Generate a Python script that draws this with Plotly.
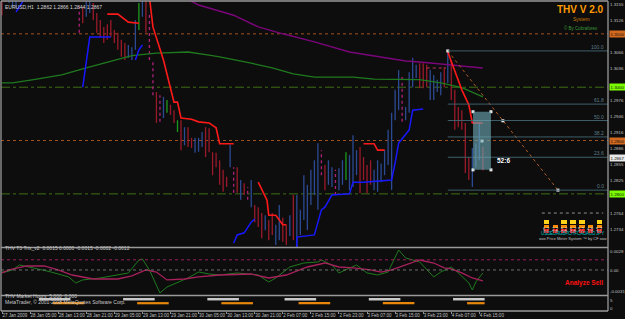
import plotly.graph_objects as go

# ---------------- DATA ----------------
# hourly EURUSD bars (index 0 = 27 Jan 2009 21:00)
bar_high = [1.3185, 1.3195, 1.3190, 1.3186, 1.3180, 1.3205, 1.3214, 1.3220, 1.3228, 1.3215,
            1.3232, 1.3240, 1.3226, 1.3218, 1.3210, 1.3214, 1.3206, 1.3200, 1.3204, 1.3195,
            1.3199, 1.3190, 1.3150, 1.3150, 1.3170, 1.3166, 1.3158, 1.3139, 1.3126, 1.3113,
            1.3118, 1.3126, 1.3107, 1.3102, 1.3089, 1.3083, 1.3079, 1.3075, 1.3126, 1.3158,
            1.3168, 1.3165, 1.3139, 1.3051, 1.2991, 1.2985, 1.2982, 1.2976, 1.2967, 1.2957,
            1.2938, 1.2938, 1.2925, 1.2925, 1.2905, 1.2905, 1.2905, 1.2916, 1.2925, 1.2923,
            1.2878, 1.2877, 1.2863, 1.2845, 1.2832, 1.2892, 1.2850, 1.2850, 1.2826, 1.2820,
            1.2813, 1.2826, 1.2779, 1.2775, 1.2764, 1.2760, 1.2751, 1.2764, 1.2742, 1.2779,
            1.2755, 1.2742, 1.2760, 1.2798, 1.2798, 1.2770, 1.2835, 1.2817, 1.2845, 1.2863,
            1.2895, 1.2882, 1.2854, 1.2863, 1.2850, 1.2845, 1.2848, 1.2863, 1.2878, 1.2873,
            1.2910, 1.2882, 1.2888, 1.2869, 1.2854, 1.2863, 1.2845, 1.2863, 1.2857, 1.2882,
            1.2920, 1.2952, 1.2995, 1.3032, 1.3019, 1.2963, 1.3028, 1.3055, 1.3042, 1.3045,
            1.3045, 1.3042, 1.3032, 1.3023, 1.3014, 1.3028, 1.3038, 1.3068, 1.3051, 1.2995,
            1.2963, 1.2957, 1.2933, 1.2869, 1.2886, 1.2895, 1.2933, 1.2888]
bar_low = [1.3135, 1.3160, 1.3158, 1.3150, 1.3148, 1.3166, 1.3170, 1.3180, 1.3185, 1.3178,
           1.3190, 1.3195, 1.3188, 1.3182, 1.3176, 1.3180, 1.3175, 1.3168, 1.3172, 1.3166,
           1.3170, 1.3168, 1.3102, 1.3120, 1.3132, 1.3139, 1.3126, 1.3102, 1.3094, 1.3083,
           1.3089, 1.3094, 1.3083, 1.3070, 1.3057, 1.3051, 1.3055, 1.3051, 1.3070, 1.3107,
           1.3132, 1.3102, 1.3051, 1.2985, 1.2933, 1.2935, 1.2942, 1.2952, 1.2948, 1.2933,
           1.2916, 1.2882, 1.2891, 1.2888, 1.2886, 1.2877, 1.2879, 1.2888, 1.2869, 1.2878,
           1.2835, 1.2850, 1.2817, 1.2804, 1.2813, 1.2850, 1.2802, 1.2802, 1.2789, 1.2798,
           1.2789, 1.2775, 1.2747, 1.2738, 1.2717, 1.2732, 1.2713, 1.2723, 1.2704, 1.2713,
           1.2710, 1.2704, 1.2721, 1.2713, 1.2700, 1.2723, 1.2751, 1.2732, 1.2779, 1.2798,
           1.2770, 1.2835, 1.2807, 1.2817, 1.2813, 1.2798, 1.2807, 1.2817, 1.2826, 1.2807,
           1.2813, 1.2835, 1.2801, 1.2826, 1.2801, 1.2817, 1.2807, 1.2804, 1.2822, 1.2835,
           1.2854, 1.2807, 1.2938, 1.2957, 1.2935, 1.2938, 1.2952, 1.3000, 1.3017, 1.2998,
           1.2998, 1.3000, 1.2976, 1.2976, 1.2991, 1.2985, 1.3000, 1.3008, 1.2976, 1.2920,
           1.2925, 1.2920, 1.2839, 1.2826, 1.2813, 1.2850, 1.2863, 1.2844]
bar_color = list("rrbbbbbbrrbbrrrbrrbrbr" "mrbbrrrrrrrrrrbbbgbrm" "mrmbgrrgrbrrbbbrrrrrrr"
                 "bmrbrmbrrrbrrbbrrbrb" "bbbbbbmrbbmbbgbbbrrrr" "bbbbbbbbmbbbbrrrbbbbr" "brrrrrrbbbr")

# moving averages (bar index, price)
ma_slow_x = [49, 56, 66, 73, 80, 89, 99, 110, 115, 119, 137]
ma_slow_y = [1.3179, 1.3154, 1.3135, 1.3113, 1.3100, 1.3085, 1.3066, 1.3055, 1.3049, 1.3047, 1.3036]
ma_fast_x = [0, 3, 9, 17, 24, 32, 37, 44, 53, 59, 62, 71, 77, 83, 89, 100, 106, 119, 125, 131, 137]
ma_fast_y = [1.3008, 1.3008, 1.3014, 1.3023, 1.3036, 1.3051, 1.3059, 1.3064, 1.3066, 1.3060, 1.3057,
             1.3045, 1.3036, 1.3025, 1.3019, 1.3019, 1.3015, 1.3014, 1.3008, 1.2999, 1.2982]

# trailing stop lines (None = break)
trail_up_x = [4, 6, 7, None, 23, 24, 25, 31, None, 38, 39, 40, None, 66, 67, 69, 71, 72, None,
              84, 84, 89, 91, 92, 94, 99, 100, 103, 111, 112, 113, 116, 117, 120]
trail_up_y = [1.3141, 1.3163, 1.3172, None, 1.3000, 1.3051, 1.3094, 1.3094, None, 1.3051, 1.3070, 1.3079, None,
              1.2708, 1.2723, 1.2727, 1.2747, 1.2753, None,
              1.2700, 1.2719, 1.2723, 1.2770, 1.2775, 1.2798, 1.2800, 1.2822, 1.2822, 1.2826, 1.2858,
              1.2895, 1.2920, 1.2957, 1.2959]
trail_dn_x = [30, 33, 36, 39, None, 42, 43, 46, 49, 50, 51, 54, 56, 59, 61, 62, 66, None,
              73, 75.5, 76, 78, 80, 81, None, 103, 106, 107, 109, None, 127, 131, 133, 134, 137]
trail_dn_y = [1.3137, 1.3137, 1.3122, 1.3120, None, 1.3169, 1.3113, 1.3051, 1.2972, 1.2972, 1.2942, 1.2940,
              1.2935, 1.2933, 1.2924, 1.2894, 1.2894, None,
              1.2822, 1.2788, 1.2760, 1.2760, 1.2742, 1.2742, None, 1.2894, 1.2894, 1.2882, 1.2882, None,
              1.3066, 1.2995, 1.2967, 1.2933, 1.2933]
pivot_x = [121, 126.5]
pivot_y = [1.3036, 1.3036]

# horizontal levels
level_prices = [1.3100, 1.3000, 1.2900, 1.2800]
level_kinds = ["round50", "round100", "round50", "round100"]

# fibonacci
fib_high = 1.3068
fib_low = 1.2807
fib_start = 127
fib_levels = [100.0, 61.8, 50.0, 38.2, 23.6, 0.0]

# projection / box
proj_x = [127, 142.7, 158.4]
proj_y = [1.3068, 1.2937, 1.2807]
box_x = [134.2, 139.3]
box_y = [1.2845, 1.2954]
anchor_x = [127, 134.2, 139.3, 136.75, 134.2, 139.3, 142.7, 158.4]
anchor_y = [1.3068, 1.2954, 1.2954, 1.2899, 1.2845, 1.2845, 1.2937, 1.2807]
box_text = "52:6"

# price tags on the axis
tag_prices = [1.3100, 1.3000, 1.2900, 1.2867, 1.2800]
tag_colors = ["#d2691e", "#7cfc00", "#d2691e", "#e8e8e8", "#7cfc00"]

# axis ticks (those hidden behind tags omitted)
price_ticks = [1.3155, 1.3126, 1.3066, 1.3036, 1.2976, 1.2946, 1.2916,
               1.2886, 1.2855, 1.2825, 1.2764, 1.2734]
time_ticks = [0, 8, 16, 24, 32, 40, 48, 56, 64, 72, 80, 88, 96, 104, 112, 120, 128, 136]
time_labels = ["27 Jan 2009", "28 Jan 05:00", "28 Jan 13:00", "28 Jan 21:00", "29 Jan 05:00",
               "29 Jan 13:00", "29 Jan 21:00", "30 Jan 05:00", "30 Jan 13:00", "30 Jan 21:00",
               "2 Feb 07:00", "2 Feb 15:00", "2 Feb 23:00", "3 Feb 07:00", "3 Feb 15:00",
               "3 Feb 23:00", "4 Feb 07:00", "4 Feb 15:00"]

# T3 Trix indicator
trix_slow_x = [0, 2, 7, 12, 16, 20, 26, 33, 37, 41, 44, 47, 52, 56, 62, 71, 76, 81, 87, 92, 96,
               100, 105, 108, 111, 115, 119, 123, 126, 128, 131, 134, 137]
trix_slow_y = [-0.00044, 0.0, 0.00059, 0.00059, 0.0, -0.00074, -0.00133, -0.00133, -0.00088, 0.0,
               -0.00030, -0.00147, -0.00133, -0.00103, -0.00074, -0.00059, -0.00118, -0.00074,
               0.00044, 0.00103, 0.00044, 0.00030, 0.0, -0.00030, 0.0, 0.00074, 0.00147, 0.00103,
               0.00030, 0.00015, -0.00044, -0.00118, -0.00162]
trix_fast_x = [0, 1, 3, 5, 9, 14, 19, 21, 23, 28, 36, 39, 40, 42, 45, 47, 53, 56, 59, 62, 67, 73,
               76, 78, 82, 86, 90, 91, 94, 96, 101, 104, 107, 110, 113, 115, 119, 121, 123, 125,
               128, 130, 133, 134, 135, 137]
trix_fast_y = [-0.00030, -0.00030, 0.0, 0.00074, 0.00029, -0.00030, -0.00103, -0.00192, -0.00147,
               -0.00118, -0.00044, 0.00147, 0.00162, 0.0, -0.00339, -0.00251, -0.00118, -0.00030,
               -0.00059, -0.00074, -0.00044, -0.00074, -0.00177, -0.00118, 0.00044, 0.00103,
               0.00118, 0.00147, 0.00074, -0.00044, 0.00074, -0.00044, -0.00074, -0.00030,
               0.00295, 0.00177, 0.00118, 0.0, -0.00103, -0.00030, 0.00044, -0.00044, -0.00192,
               -0.00295, -0.00177, -0.00044]
trix_levels = [0.0015, 0.0]

# market hours sessions (bar index ranges)
london_sessions = [(11, 19), (35, 43), (59, 67), (81, 89), (105, 113), (129, 137)]
ny_sessions = [(15, 23), (39, 47), (63, 71), (85, 93), (109, 117), (133, 137)]
london_level = 5.5
ny_level = 3.0

# price meter panel
meter_ccy = ["USD", "EUR", "GBP", "CHF", "CAD", "AUD", "JPY"]
meter_vals = ["6.7", "2.2", "5.2", "6.2", "5.7", "4.8", "5.7"]
meter_blocks = [3, 2, 3, 3, 3, 2, 3]

# ---------------- FIGURE ----------------
BG = "#0d0d0d"
FONT = "Liberation Sans, Arial, sans-serif"
fig = go.Figure()

colmap = {"r": ("#9a1a2a", "solid"), "b": ("#2c4a94", "solid"),
          "m": ("#b0207a", "dot"), "g": ("#1c9a1c", "solid")}
for key, (col, dash) in colmap.items():
    xs, ys = [], []
    for i, (h, l, c) in enumerate(zip(bar_high, bar_low, bar_color)):
        if c == key:
            xs += [i, i, None]
            ys += [l, h, None]
    fig.add_trace(go.Scatter(x=xs, y=ys, mode="lines", line=dict(color=col, width=1.3, dash=dash),
                             hoverinfo="skip", xaxis="x", yaxis="y"))

fig.add_trace(go.Scatter(x=ma_fast_x, y=ma_fast_y, mode="lines", line=dict(color="#1f7a1f", width=1.3),
                         xaxis="x", yaxis="y"))
fig.add_trace(go.Scatter(x=ma_slow_x, y=ma_slow_y, mode="lines", line=dict(color="#7a067a", width=1.5),
                         xaxis="x", yaxis="y"))
fig.add_trace(go.Scatter(x=trail_up_x, y=trail_up_y, mode="lines", line=dict(color="#1818ff", width=1.5),
                         connectgaps=False, xaxis="x", yaxis="y"))
fig.add_trace(go.Scatter(x=trail_dn_x, y=trail_dn_y, mode="lines", line=dict(color="#ff1a1a", width=1.6),
                         connectgaps=False, xaxis="x", yaxis="y"))
fig.add_trace(go.Scatter(x=pivot_x, y=pivot_y, mode="lines", line=dict(color="#c0306a", width=1.2, dash="dot"),
                         xaxis="x", yaxis="y"))

shapes = []
for p, k in zip(level_prices, level_kinds):
    if k == "round50":
        shapes.append(dict(type="line", xref="paper", x0=0, x1=1, yref="y", y0=p, y1=p,
                           line=dict(color="#a4501e", width=1, dash="dot"), layer="below"))
    else:
        shapes.append(dict(type="line", xref="paper", x0=0, x1=1, yref="y", y0=p, y1=p,
                           line=dict(color="#3f6f14", width=1, dash="dashdot"), layer="below"))
x_right = 172.65
annotations = []
for lv in fib_levels:
    p = fib_low + (fib_high - fib_low) * lv / 100.0
    shapes.append(dict(type="line", xref="x", x0=fib_start, x1=x_right, yref="y", y0=p, y1=p,
                       line=dict(color="#3e5f6a", width=1)))
    annotations.append(dict(xref="paper", x=0.9967, xanchor="right", yref="y", y=p, yanchor="bottom",
                            text="%.1f" % lv, showarrow=False, font=dict(size=5, color="#5c7f8c", family=FONT),
                            yshift=-1))
shapes.append(dict(type="rect", xref="x", x0=box_x[0], x1=box_x[1], yref="y", y0=box_y[0], y1=box_y[1],
                   fillcolor="rgba(110,170,180,0.62)", line=dict(width=0)))
fig.add_trace(go.Scatter(x=proj_x, y=proj_y, mode="lines", line=dict(color="#b05a24", width=1, dash="dot"),
                         xaxis="x", yaxis="y"))
fig.add_trace(go.Scatter(x=anchor_x, y=anchor_y, mode="markers",
                         marker=dict(symbol="square", size=3, color="#e8e8e8"), xaxis="x", yaxis="y"))
annotations.append(dict(xref="x", x=142.9, yref="y", y=1.2863, text="<b>%s</b>" % box_text, showarrow=False,
                        font=dict(size=6.5, color="#ffffff", family=FONT)))

# indicator pane
fig.add_trace(go.Scatter(x=trix_fast_x, y=trix_fast_y, mode="lines", line=dict(color="#1e7a1e", width=1),
                         xaxis="x", yaxis="y2"))
fig.add_trace(go.Scatter(x=trix_slow_x, y=trix_slow_y, mode="lines", line=dict(color="#a8205c", width=1.3),
                         xaxis="x", yaxis="y2"))
shapes.append(dict(type="line", xref="paper", x0=0, x1=1, yref="y2", y0=trix_levels[0], y1=trix_levels[0],
                   line=dict(color="#9a1f5a", width=1, dash="dot")))
shapes.append(dict(type="line", xref="paper", x0=0, x1=1, yref="y2", y0=trix_levels[1], y1=trix_levels[1],
                   line=dict(color="#707070", width=1, dash="dot")))

# market hours pane
lx, ly, nx, ny = [], [], [], []
for a, b in london_sessions:
    lx += [a - 0.5, b + 0.5, None]
    ly += [london_level, london_level, None]
for a, b in ny_sessions:
    nx += [a - 0.5, b + 0.5, None]
    ny += [ny_level, ny_level, None]
fig.add_trace(go.Scatter(x=lx, y=ly, mode="lines", line=dict(color="#c8c8c8", width=2.5), xaxis="x", yaxis="y3"))
fig.add_trace(go.Scatter(x=nx, y=ny, mode="lines", line=dict(color="#e8860c", width=2.2), xaxis="x", yaxis="y3"))

# price meter panel
layer_cols = ["#ee1111", "#ff8c00", "#ffd21a"]
for k in range(3):
    vals = [1 if n > k else 0 for n in meter_blocks]
    fig.add_trace(go.Bar(x=list(range(len(meter_ccy))), y=vals, marker=dict(color=layer_cols[k],
                         line=dict(color=BG, width=1)), width=0.72, xaxis="x4", yaxis="y4"))
for j, (c, v) in enumerate(zip(meter_ccy, meter_vals)):
    annotations.append(dict(xref="x4", x=j, yref="paper", y=0.2484, text=v, showarrow=False,
                            font=dict(size=4.5, color="#d0d0d0", family=FONT)))
    annotations.append(dict(xref="x4", x=j, yref="paper", y=0.2355, text=c, showarrow=False,
                            font=dict(size=4.5, color="#00c0c0", family=FONT)))
annotations.append(dict(xref="x4", x=3, yref="paper", y=0.2194, text="ooo Price Meter System \u2122 by CF ooo",
                        showarrow=False, font=dict(size=4, color="#c0c0c0", family=FONT)))
shapes.append(dict(type="line", xref="paper", x0=0.891, x1=0.992, yref="paper", y0=0.316, y1=0.316,
                   line=dict(color="#909090", width=1, dash="dot")))

# price tags
for p, c in zip(tag_prices, tag_colors):
    annotations.append(dict(xref="paper", x=1, xanchor="left", xshift=1, yref="y", y=p, text="%.4f" % p,
                            showarrow=False, bgcolor=c, borderpad=0.5,
                            font=dict(size=4.4, color="#101010", family=FONT)))

annotations += [
    dict(xref="paper", x=0, xanchor="left", xshift=2, yref="paper", y=1, yanchor="top", yshift=-1,
         text="EURUSD,H1  1.2862 1.2866 1.2844 1.2867", showarrow=False,
         font=dict(size=5, color="#d8d8d8", family=FONT)),
    dict(xref="paper", x=0.9967, xanchor="right", yref="paper", y=1, yanchor="top", yshift=-1,
         text="<b>THV V 2.0</b>", showarrow=False, font=dict(size=10, color="#ff9a00", family=FONT)),
    dict(xref="paper", x=0.9736, xanchor="right", yref="paper", y=0.958, text="System", showarrow=False,
         font=dict(size=5, color="#c87a00", family=FONT)),
    dict(xref="paper", x=0.9868, xanchor="right", yref="paper", y=0.929, text="\u00a9 By Cobraforex",
         showarrow=False, font=dict(size=4.5, color="#3a9a3a", family=FONT)),
    dict(xref="paper", x=0, xanchor="left", xshift=2, yref="paper", y=0.187,
         text="THV T3 Trix_v2  0.0015 0.0000 -0.0015 -0.0002 -0.0012", showarrow=False,
         font=dict(size=5, color="#c8c8c8", family=FONT)),
    dict(xref="paper", x=0.995, xanchor="right", yref="paper", y=0.071, text="<b>Analyze Sell</b>",
         showarrow=False, font=dict(size=6.5, color="#ff1010", family=FONT)),
    dict(xref="paper", x=0, xanchor="left", xshift=2, yref="paper", y=0.031,
         text="THV Market Hours  5.000  0.000", showarrow=False, font=dict(size=5, color="#c8c8c8", family=FONT)),
    dict(xref="paper", x=0, xanchor="left", xshift=2, yref="paper", y=0.012,
         text="MetaTrader, \u00a9 2001-2008 MetaQuotes Software Corp.", showarrow=False,
         font=dict(size=5, color="#c8c8c8", family=FONT)),
]

border = "#9a9a9a"
for yv in [1.0, 0.2048, 0.05, 0.0]:
    shapes.append(dict(type="line", xref="paper", x0=0, x1=1, yref="paper", y0=yv, y1=yv,
                       line=dict(color=border, width=1.5)))
for xv in [0.0, 1.0]:
    shapes.append(dict(type="line", xref="paper", x0=xv, x1=xv, yref="paper", y0=0, y1=1,
                       line=dict(color=border, width=1.3)))

axfont = dict(size=4.4, color="#c0c0c0", family=FONT)
yax_common = dict(side="right", anchor="x", tickmode="array", tickfont=axfont, ticks="",
                  ticklabelstandoff=1, showgrid=False, zeroline=False, automargin=False)
fig.update_layout(
    width=625, height=319, margin=dict(l=1, r=17, t=1, b=8, autoexpand=False),
    paper_bgcolor=BG, plot_bgcolor=BG, showlegend=False, barmode="stack", bargap=0.2,
    shapes=shapes, annotations=annotations,
    xaxis=dict(domain=[0, 1], range=[-0.285, x_right], anchor="y3", tickmode="array", tickvals=time_ticks,
               ticktext=time_labels, ticklabelposition="outside right", tickangle=0, automargin=False,
               tickfont=dict(size=4.5, color="#c0c0c0", family=FONT), ticks="outside",
               ticklen=2, tickcolor="#909090", showgrid=False, zeroline=False, showline=False),
    yaxis=dict(domain=[0.2065, 1], range=[1.27004, 1.31616], tickvals=price_ticks,
               ticktext=["%.4f" % t for t in price_ticks], **yax_common),
    yaxis2=dict(domain=[0.0516, 0.2032], range=[-0.00369, 0.00324],
                tickvals=[0.0028, 0.0, -0.0031], ticktext=["0.0028", "0.00", "-0.0031"], **yax_common),
    yaxis3=dict(domain=[0, 0.0484], range=[-1.875, 7.5], tickvals=[5, 0], ticktext=["5", "0"], **yax_common),
    xaxis4=dict(domain=[0.8913, 0.9934], range=[-0.5, 6.5], anchor="y4", visible=False),
    yaxis4=dict(domain=[0.2516, 0.2968], range=[0, 3.2], anchor="x4", visible=False),
)

fig.write_html("out.html")
